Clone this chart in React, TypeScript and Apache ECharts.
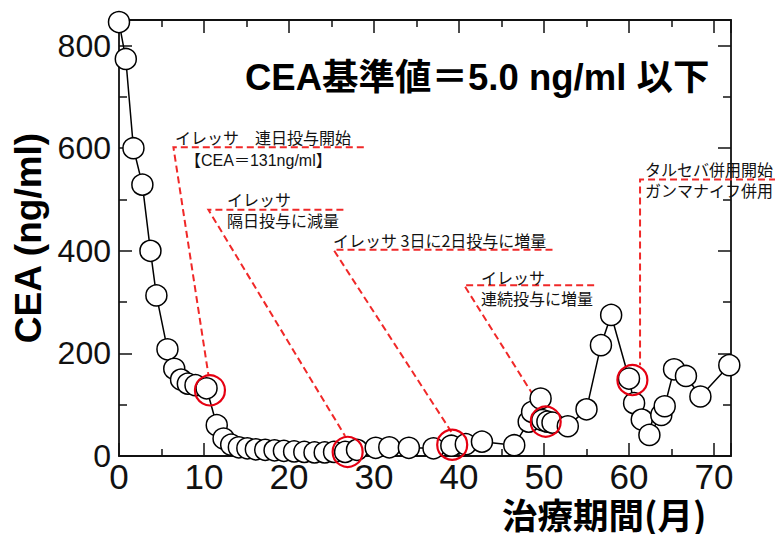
import React, { useEffect, useRef } from "react";
import * as echarts from "echarts";

// Treatment period (months) and CEA (ng/ml)
const months = [
  0, 0.8, 1.7, 2.75, 3.7, 4.4, 5.7, 6.5, 7.3, 8.1, 9.0, 10.3,
  11.5, 12.3, 13.2, 14.1, 15.1, 16.1, 17.2, 18.3, 19.4, 20.6, 21.8, 23.0,
  24.2, 25.3, 26.6, 28.0, 30.2, 31.8, 34.1, 37.0, 39.1, 40.8, 42.7, 46.5,
  48.2, 48.6, 49.6, 49.8, 50.4, 51.0, 52.8, 55.0, 56.7, 57.9, 60.0, 60.6,
  61.5, 62.4, 63.8, 64.2, 65.3, 66.7, 68.4, 71.8,
];
const ceaValues = [
  846, 774, 600, 529, 400, 313, 208, 170, 149, 141, 138, 132,
  60, 34, 22, 17, 15, 13, 12, 11, 10, 9, 8, 7,
  7, 8, 8, 12, 16, 17, 16, 15, 20, 23, 28, 21,
  67, 86, 112, 70, 67, 65, 58, 91, 216, 275, 151, 103,
  71, 41, 80, 97, 169, 156, 116, 177,
];

// Red-circled points
const highlightMonths = [10.7, 26.9, 39.2, 50.2, 60.4];
const highlightValues = [128, 8, 22, 67, 148];

// Red dashed leader lines (data units)
const leaderLines = [
  [[28.8, 602], [6.4, 602], [10.52, 158]],
  [[26.4, 480], [10.52, 480], [26.6, 39]],
  [[51.0, 402], [25.25, 402], [39.1, 47]],
  [[55.9, 333], [40.6, 333], [49.7, 93]],
  [[77.3, 539], [61.3, 539], [61.3, 177]],
];

const annotationTexts = [
  "イレッサ　連日投与開始",
  "【CEA＝131ng/ml】",
  "イレッサ",
  "隔日投与に減量",
  "イレッサ 3日に2日投与に増量",
  "イレッサ",
  "連続投与に増量",
  "タルセバ併用開始",
  "ガンマナイフ併用",
];

const titleText = "CEA基準値＝5.0 ng/ml 以下";
const xAxisName = "治療期間(月)";
const yAxisName = "CEA (ng/ml)";

const X_MIN = 0;
const X_MAX = 72;
const X_INTERVAL = 10;
const Y_MIN = 0;
const Y_MAX = 850;
const Y_INTERVAL = 200;

export default function App() {
  const ref = useRef<HTMLDivElement>(null);

  useEffect(() => {
    document.body.style.margin = "0";
    if (!ref.current) return;
    const chart = echarts.init(ref.current, undefined, { renderer: "svg" });

    const axisColor = "#111";
    const red = "#e60012";
    const latin = "'Liberation Sans', Arial, sans-serif";
    const cjk = "'Noto Sans CJK JP', sans-serif";
    const mixed = "'Liberation Sans', 'Noto Sans CJK JP', sans-serif";

    const commonX = {
      type: "value" as const,
      min: X_MIN,
      max: X_MAX,
      interval: X_INTERVAL,
      splitLine: { show: false },
      axisLine: { show: true, onZero: false, lineStyle: { color: axisColor, width: 1.8 } },
      axisTick: { show: true, inside: true, length: 13, lineStyle: { color: axisColor, width: 1.5 } },
      minorTick: { show: true, splitNumber: 2, length: 7, lineStyle: { color: axisColor, width: 1.5 } },
    };
    const commonY = {
      type: "value" as const,
      min: Y_MIN,
      max: Y_MAX,
      interval: Y_INTERVAL,
      splitLine: { show: false },
      axisLine: { show: true, onZero: false, lineStyle: { color: axisColor, width: 1.8 } },
      axisTick: { show: true, inside: true, length: 13, lineStyle: { color: axisColor, width: 1.5 } },
      minorTick: { show: true, splitNumber: 2, length: 8, lineStyle: { color: axisColor, width: 1.5 } },
    };

    const textPos: [number, number][] = [
      [175, 137],
      [185, 160],
      [227, 199],
      [227, 220],
      [333, 240],
      [481, 277],
      [481, 298],
      [645, 169],
      [645, 190],
    ];

    const graphics: any[] = annotationTexts.map((t, i) => ({
      type: "text",
      x: textPos[i][0],
      y: textPos[i][1],
      z: 10,
      silent: true,
      style: {
        text: t,
        fill: "#111",
        fontSize: 16,
        lineHeight: 17,
        fontFamily: i === 1 ? mixed : cjk,
        textAlign: "left",
        textVerticalAlign: "middle",
      },
    }));
    graphics.push({
      type: "text",
      x: 245,
      y: 77,
      z: 10,
      silent: true,
      style: {
        text: titleText,
        fill: "#000",
        fontSize: 36.5,
        fontWeight: "bold",
        fontFamily: mixed,
        textAlign: "left",
        textVerticalAlign: "middle",
      },
    });
    graphics.push({
      type: "text",
      x: 502,
      y: 513,
      z: 10,
      silent: true,
      style: {
        text: xAxisName,
        fill: "#000",
        fontSize: 35.5,
        lineHeight: 34,
        fontWeight: "bold",
        fontFamily: cjk,
        textAlign: "left",
        textVerticalAlign: "middle",
      },
    });

    chart.setOption({
      animation: false,
      backgroundColor: "#fff",
      grid: { left: 119, right: 44, top: 20, bottom: 78, containLabel: false, outerBoundsMode: "none" },
      xAxis: [
        {
          ...commonX,
          position: "bottom",
          axisLabel: {
            show: true,
            showMaxLabel: false,
            color: "#111",
            fontSize: 35,
            lineHeight: 28,
            fontFamily: latin,
            margin: 6,
          },
        },
        {
          ...commonX,
          position: "top",
          axisLabel: { show: false },
        },
      ],
      yAxis: [
        {
          ...commonY,
          position: "left",
          name: yAxisName,
          nameLocation: "middle",
          nameGap: 67,
          nameTextStyle: { fontSize: 37, fontWeight: "bold", fontFamily: latin, color: "#000" },
          axisLabel: {
            show: true,
            showMaxLabel: false,
            color: "#111",
            fontSize: 32,
            fontFamily: latin,
            margin: 8,
          },
        },
        {
          ...commonY,
          position: "right",
          axisLabel: { show: false },
        },
      ],
      series: [
        {
          type: "lines",
          coordinateSystem: "cartesian2d",
          polyline: true,
          clip: false,
          silent: true,
          z: 3,
          lineStyle: { color: "#f02828", width: 2, type: [7, 4], opacity: 1 },
          data: leaderLines.map((c) => ({ coords: c })),
        },
        {
          type: "line",
          clip: false,
          z: 4,
          data: months.map((m, i) => [m, ceaValues[i]]),
          symbol: "circle",
          symbolSize: 21,
          showSymbol: true,
          showAllSymbol: true,
          lineStyle: { color: "#000", width: 1.5 },
          itemStyle: { color: "#fff", borderColor: "#000", borderWidth: 1.5 },
        },
        {
          type: "scatter",
          clip: false,
          z: 6,
          data: highlightMonths.map((m, i) => [m, highlightValues[i]]),
          symbol: "circle",
          symbolSize: 30,
          itemStyle: { color: "rgba(0,0,0,0)", borderColor: red, borderWidth: 2.2, opacity: 1 },
        },
      ],
      graphic: graphics,
    });

    return () => {
      chart.dispose();
    };
  }, []);

  return <div ref={ref} style={{ width: 775, height: 534 }} />;
}
